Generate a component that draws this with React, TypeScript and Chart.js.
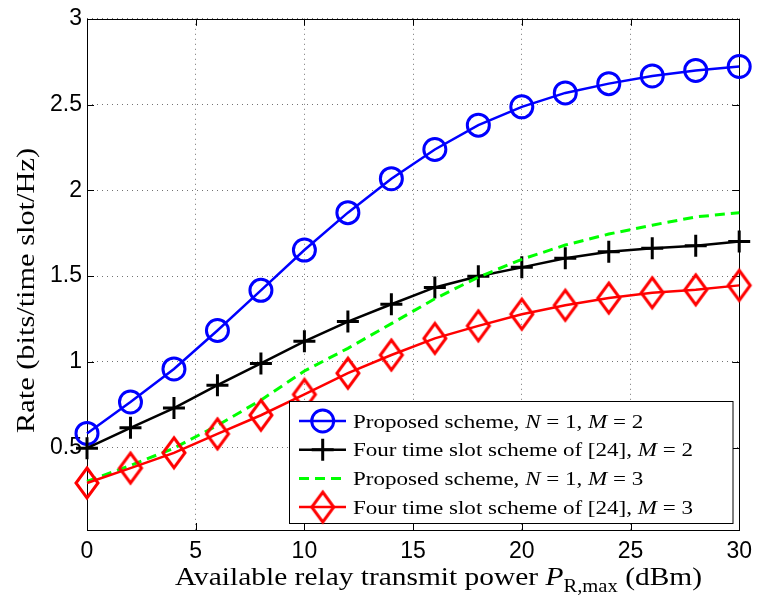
import React, { useEffect, useRef } from 'react';
import { Chart, registerables } from 'chart.js';

Chart.register(...registerables);

// ---------------- data ----------------
const powerDbm = [0, 2, 4, 6, 8, 10, 12, 14, 16, 18, 20, 22, 24, 26, 28, 30];
const proposedN1M2 = [0.583, 0.766, 0.959, 1.183, 1.417, 1.652, 1.87, 2.068, 2.238, 2.38, 2.487, 2.568, 2.622, 2.667, 2.699, 2.722];
const fourSlotM2 = [0.497, 0.616, 0.731, 0.864, 0.991, 1.12, 1.235, 1.336, 1.434, 1.499, 1.551, 1.604, 1.642, 1.663, 1.677, 1.702];
const proposedN1M3 = [0.303, 0.396, 0.497, 0.63, 0.777, 0.947, 1.079, 1.223, 1.368, 1.494, 1.598, 1.681, 1.745, 1.797, 1.845, 1.87];
const fourSlotM3 = [0.294, 0.381, 0.47, 0.58, 0.689, 0.81, 0.934, 1.04, 1.137, 1.21, 1.278, 1.33, 1.372, 1.403, 1.42, 1.446];

const xTickValues = [0, 5, 10, 15, 20, 25, 30];
const yTickValues = [0.5, 1, 1.5, 2, 2.5, 3];

const seriesLabels = [
  'Proposed scheme, N = 1, M = 2',
  'Four time slot scheme of [24], M = 2',
  'Proposed scheme, N = 1, M = 3',
  'Four time slot scheme of [24], M = 3',
];

type Run = { text: string; italic?: boolean; sub?: boolean };

const xAxisTitle: Run[] = [
  { text: 'Available relay transmit power ' },
  { text: 'P', italic: true },
  { text: 'R,max', sub: true },
  { text: ' (dBm)' },
];
const yAxisTitle: Run[] = [{ text: 'Rate (bits/time slot/Hz)' }];

// ---------------- helpers ----------------
const SERIF = '"Liberation Serif", "Times New Roman", serif';

function runFont(r: Run, size: number) {
  const s = r.sub ? size * 0.7 : size;
  return `${r.italic ? 'italic ' : ''}${s}px ${SERIF}`;
}

function measureRuns(ctx: CanvasRenderingContext2D, runs: Run[], size: number) {
  let w = 0;
  for (const r of runs) {
    ctx.font = runFont(r, size);
    w += ctx.measureText(r.text).width;
  }
  return w;
}

function drawRuns(ctx: CanvasRenderingContext2D, runs: Run[], x: number, y: number, size: number, sx: number) {
  ctx.save();
  ctx.translate(x, y);
  ctx.scale(sx, 1);
  ctx.textAlign = 'left';
  ctx.textBaseline = 'alphabetic';
  ctx.fillStyle = '#000';
  let cx = 0;
  for (const r of runs) {
    ctx.font = runFont(r, size);
    ctx.fillText(r.text, cx, r.sub ? size * 0.28 : 0);
    cx += ctx.measureText(r.text).width;
  }
  ctx.restore();
}

function labelToRuns(label: string): Run[] {
  return label
    .split(/\b([NM])\b/)
    .map((t, i) => ({ text: t, italic: i % 2 === 1 }))
    .filter((r) => r.text.length > 0);
}

function makeDiamond(color: string, hw: number, hh: number, lw: number) {
  const c = document.createElement('canvas');
  c.width = Math.ceil(2 * hw + 2 * lw);
  c.height = Math.ceil(2 * hh + 2 * lw);
  const g = c.getContext('2d')!;
  const cx = c.width / 2;
  const cy = c.height / 2;
  g.strokeStyle = color;
  g.lineWidth = lw;
  g.lineJoin = 'miter';
  g.beginPath();
  g.moveTo(cx, cy - hh);
  g.lineTo(cx + hw, cy);
  g.lineTo(cx, cy + hh);
  g.lineTo(cx - hw, cy);
  g.closePath();
  g.stroke();
  return c;
}

function drawMarker(ctx: CanvasRenderingContext2D, ds: any, x: number, y: number) {
  const style = ds.pointStyle;
  const r = ds.pointRadius;
  ctx.save();
  ctx.strokeStyle = ds.pointBorderColor;
  ctx.lineWidth = ds.pointBorderWidth;
  if (style instanceof HTMLCanvasElement) {
    ctx.drawImage(style, x - style.width / 2, y - style.height / 2);
  } else if (style === 'circle') {
    ctx.beginPath();
    ctx.arc(x, y, r, 0, Math.PI * 2);
    ctx.stroke();
  } else if (style === 'cross') {
    ctx.beginPath();
    ctx.moveTo(x - r, y);
    ctx.lineTo(x + r, y);
    ctx.moveTo(x, y - r);
    ctx.lineTo(x, y + r);
    ctx.stroke();
  }
  ctx.restore();
}

const decorPlugin = {
  id: 'matlabDecor',
  beforeDatasetsDraw(chart: any) {
    const { ctx, chartArea: a, scales } = chart;
    ctx.save();
    ctx.strokeStyle = '#000';
    ctx.lineWidth = 1;
    // inward tick marks on all four sides
    const tl = 7;
    ctx.beginPath();
    for (const v of xTickValues) {
      const px = Math.round(scales.x.getPixelForValue(v)) + 0.5;
      ctx.moveTo(px, a.bottom);
      ctx.lineTo(px, a.bottom - tl);
      ctx.moveTo(px, a.top);
      ctx.lineTo(px, a.top + tl);
    }
    for (const v of yTickValues) {
      const py = Math.round(scales.y.getPixelForValue(v)) + 0.5;
      ctx.moveTo(a.left, py);
      ctx.lineTo(a.left + tl, py);
      ctx.moveTo(a.right, py);
      ctx.lineTo(a.right - tl, py);
    }
    ctx.stroke();
    // frame
    ctx.strokeRect(Math.round(a.left) + 0.5, Math.round(a.top) + 0.5, Math.round(a.right - a.left), Math.round(a.bottom - a.top));
    ctx.restore();
  },
  afterDraw(chart: any) {
    const { ctx } = chart;
    // x axis title
    {
      const size = 26;
      const w = measureRuns(ctx, xAxisTitle, size);
      drawRuns(ctx, xAxisTitle, 175, 585, size, 527 / w);
    }
    // y axis title
    {
      const size = 25;
      const w = measureRuns(ctx, yAxisTitle, size);
      ctx.save();
      ctx.translate(33.5, 433);
      ctx.rotate(-Math.PI / 2);
      drawRuns(ctx, yAxisTitle, 0, 0, size, 285 / w);
      ctx.restore();
    }
    // legend
    {
      const box = { x: 289.5, y: 401.5, w: 443.5, h: 122 };
      ctx.save();
      ctx.fillStyle = '#fff';
      ctx.fillRect(box.x, box.y, box.w, box.h);
      ctx.strokeStyle = '#000';
      ctx.lineWidth = 1;
      ctx.strokeRect(box.x, box.y, box.w, box.h);
      ctx.restore();
      const size = 19;
      const datasets = chart.data.datasets;
      const runsList = datasets.map((d: any) => labelToRuns(d.label));
      const refW = measureRuns(ctx, runsList[1], size);
      const sx = 340 / refW;
      datasets.forEach((ds: any, i: number) => {
        const cy = 421 + i * 28.7;
        ctx.save();
        ctx.strokeStyle = ds.borderColor;
        ctx.lineWidth = ds.borderWidth;
        ctx.setLineDash(ds.borderDash || []);
        ctx.beginPath();
        ctx.moveTo(299, cy);
        ctx.lineTo(346, cy);
        ctx.stroke();
        ctx.restore();
        if (ds.showMarker) drawMarker(ctx, ds, 322.7, cy);
        drawRuns(ctx, runsList[i], 353, cy + 6.7, size, sx);
      });
    }
  },
};

export default function App() {
  const ref = useRef<HTMLCanvasElement | null>(null);

  useEffect(() => {
    const canvas = ref.current;
    if (!canvas) return;
    const diamond = makeDiamond('#ff0000', 11, 15, 3);
    const toPts = (ys: number[]) => ys.map((y, i) => ({ x: powerDbm[i], y }));

    const chart = new Chart(canvas, {
      type: 'line',
      data: {
        datasets: [
          {
            label: seriesLabels[0],
            data: toPts(proposedN1M2),
            borderColor: '#0000ff',
            borderWidth: 2.5,
            pointStyle: 'circle',
            pointRadius: 11,
            pointBorderWidth: 3,
            pointBorderColor: '#0000ff',
            pointBackgroundColor: 'rgba(0,0,0,0)',
            order: 4,
            clip: false,
            showMarker: true,
          } as any,
          {
            label: seriesLabels[1],
            data: toPts(fourSlotM2),
            borderColor: '#000000',
            borderWidth: 2.5,
            pointStyle: 'cross',
            pointRadius: 11,
            pointBorderWidth: 3,
            pointBorderColor: '#000000',
            pointBackgroundColor: 'rgba(0,0,0,0)',
            order: 3,
            clip: false,
            showMarker: true,
          } as any,
          {
            label: seriesLabels[2],
            data: toPts(proposedN1M3),
            borderColor: '#00ff00',
            borderWidth: 3,
            borderDash: [10, 6],
            pointRadius: 0,
            order: 2,
            clip: false,
            showMarker: false,
          } as any,
          {
            label: seriesLabels[3],
            data: toPts(fourSlotM3),
            borderColor: '#ff0000',
            borderWidth: 2.5,
            pointStyle: diamond,
            pointRadius: 11,
            pointBorderWidth: 3,
            pointBorderColor: '#ff0000',
            pointBackgroundColor: 'rgba(0,0,0,0)',
            order: 1,
            clip: false,
            showMarker: true,
          } as any,
        ],
      },
      options: {
        animation: false,
        responsive: false,
        maintainAspectRatio: false,
        layout: { padding: { left: 0, right: 18, top: 15, bottom: 0 } },
        elements: { line: { tension: 0 } },
        plugins: {
          legend: { display: false },
          tooltip: { enabled: false },
          title: { display: false },
        },
        scales: {
          x: {
            type: 'linear',
            min: 0,
            max: 30,
            afterBuildTicks: (s: any) => {
              s.ticks = xTickValues.map((v) => ({ value: v }));
            },
            afterFit: (s: any) => {
              s.height = 68;
            },
            grid: { color: 'rgba(0,0,0,0.55)', lineWidth: 1, drawTicks: false },
            border: { display: false, dash: [1, 4] },
            ticks: {
              padding: 8,
              maxRotation: 0,
              autoSkip: false,
              color: '#000',
              font: { family: '"Liberation Sans", Arial, sans-serif', size: 23 },
              callback: (v: any) => String(v),
            },
          },
          y: {
            type: 'linear',
            min: 0.02,
            max: 3,
            afterBuildTicks: (s: any) => {
              s.ticks = yTickValues.map((v) => ({ value: v }));
            },
            afterFit: (s: any) => {
              s.width = 87;
            },
            grid: { color: 'rgba(0,0,0,0.55)', lineWidth: 1, drawTicks: false },
            border: { display: false, dash: [1, 4] },
            ticks: {
              padding: 5,
              autoSkip: false,
              color: '#000',
              font: { family: '"Liberation Sans", Arial, sans-serif', size: 23 },
              callback: (v: any) => String(v),
            },
          },
        },
      },
      plugins: [decorPlugin],
    });

    return () => chart.destroy();
  }, []);

  return (
    <div style={{ position: 'absolute', left: 0, top: 0, width: 760, height: 598, background: '#fff' }}>
      <canvas ref={ref} width={760} height={598} style={{ display: 'block', width: 760, height: 598 }} />
    </div>
  );
}
